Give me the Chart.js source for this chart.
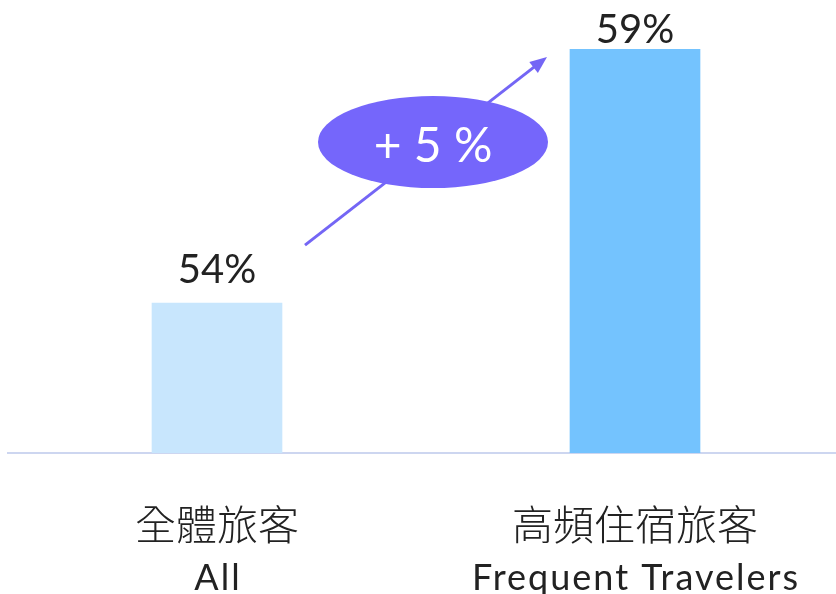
<!DOCTYPE html>
<html>
<head>
<meta charset="utf-8">
<script src="https://cdn.jsdelivr.net/npm/chart.js@4"></script>
<style>
  html, body { margin: 0; padding: 0; background: #fff; overflow: hidden; }
  #wrap { width: 844px; height: 594px; }
</style>
</head>
<body>
<div id="wrap"><canvas id="chart"></canvas></div>
<script>
// chart data
const categoriesZh = ['全體旅客', '高頻住宿旅客'];
const categoriesEn = ['All', 'Frequent Travelers'];
const shares = [54, 59];
const shareLabels = ['54%', '59%'];
const deltaLabel = '+ 5 %';
const barColors = ['#c8e6fd', '#74c3fe'];

const FONT = "Lato, 'Noto Sans CJK TC', sans-serif";

// value labels above the bars
const valueLabels = {
    id: 'valueLabels',
    afterDatasetsDraw(chart) {
        const { ctx } = chart;
        const gaps = [20, 6];
        const bars = chart.getDatasetMeta(0).data;
        ctx.save();
        ctx.fillStyle = '#222';
        ctx.font = `40px ${FONT}`;
        ctx.textAlign = 'center';
        ctx.textBaseline = 'alphabetic';
        bars.forEach((bar, i) => {
            ctx.fillText(shareLabels[i], bar.x, bar.y - gaps[i]);
        });
        ctx.restore();
    }
};

// two-line category labels (Chinese + English, different sizes)
const categoryLabels = {
    id: 'categoryLabels',
    afterDraw(chart) {
        const { ctx } = chart;
        const x = chart.scales.x;
        ctx.save();
        ctx.fillStyle = '#222';
        ctx.textAlign = 'center';
        ctx.textBaseline = 'alphabetic';
        categoriesZh.forEach((zh, i) => {
            const px = x.getPixelForValue(i);
            ctx.font = "300 41px 'Noto Sans CJK TC', sans-serif";
            ctx.letterSpacing = '0px';
            ctx.fillText(zh, px, x.top + 87);
            ctx.font = '36px Lato, sans-serif';
            ctx.letterSpacing = '2px';
            ctx.fillText(categoriesEn[i], px + 1, x.top + 137);
        });
        ctx.restore();
    }
};

// arrow + ellipse showing the difference
const deltaBadge = {
    id: 'deltaBadge',
    afterDraw(chart) {
        const { ctx } = chart;
        const [a, b] = chart.getDatasetMeta(0).data;
        const x0 = a.x + 88, y0 = a.y - 58;
        const x1 = b.x - 88, y1 = b.y + 8;
        const ang = Math.atan2(y1 - y0, x1 - x0);
        ctx.save();
        ctx.strokeStyle = '#7466f5';
        ctx.fillStyle = '#7466f5';
        ctx.lineWidth = 3;
        ctx.beginPath();
        ctx.moveTo(x0, y0);
        ctx.lineTo(x1 - 12 * Math.cos(ang), y1 - 12 * Math.sin(ang));
        ctx.stroke();
        ctx.beginPath();
        ctx.moveTo(x1, y1);
        ctx.lineTo(x1 - 17 * Math.cos(ang) + 7 * Math.sin(ang), y1 - 17 * Math.sin(ang) - 7 * Math.cos(ang));
        ctx.lineTo(x1 - 17 * Math.cos(ang) - 7 * Math.sin(ang), y1 - 17 * Math.sin(ang) + 7 * Math.cos(ang));
        ctx.closePath();
        ctx.fill();

        const cx = (x0 + x1) / 2 + 7, cy = (y0 + y1) / 2 - 9;
        ctx.fillStyle = '#7566fb';
        ctx.beginPath();
        ctx.ellipse(cx, cy, 115, 46, 0, 0, Math.PI * 2);
        ctx.fill();
        ctx.fillStyle = '#fff';
        ctx.font = `48px ${FONT}`;
        ctx.textAlign = 'center';
        ctx.textBaseline = 'middle';
        ctx.fillText(deltaLabel, cx, cy + 4);
        ctx.restore();
    }
};

new Chart(document.getElementById('chart'), {
    type: 'bar',
    data: {
        labels: categoriesEn,
        datasets: [{
            data: shares,
            backgroundColor: barColors,
            barThickness: 130
        }]
    },
    options: {
        responsive: true,
        maintainAspectRatio: false,
        animation: false,
        layout: { padding: { left: 8, top: 49 } },
        plugins: { legend: { display: false }, tooltip: { enabled: false } },
        scales: {
            x: {
                grid: { display: false, drawTicks: false },
                border: { color: '#cdd6f0', width: 2 },
                ticks: { display: false },
                afterFit: (scale) => { scale.height = 141; }
            },
            y: {
                display: false,
                min: 51.05,
                max: 59
            }
        }
    },
    plugins: [valueLabels, categoryLabels, deltaBadge]
});
</script>
</body>
</html>
